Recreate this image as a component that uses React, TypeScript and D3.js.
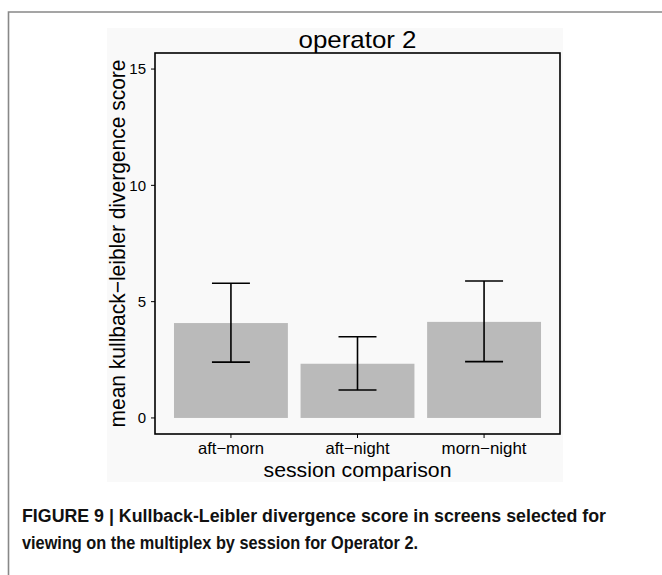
import React from "react";
import * as d3 from "d3";

const categories = ["aft−morn", "aft−night", "morn−night"];
const means = [4.08, 2.33, 4.13];
const lower = [2.4, 1.2, 2.42];
const upper = [5.79, 3.49, 5.89];
const yTicks = [0, 5, 10, 15];

const title = "operator 2";
const xTitle = "session comparison";
const yTitle = "mean kullback−leibler divergence score";
const caption1 = "FIGURE 9 | Kullback-Leibler divergence score in screens selected for";
const caption2 = "viewing on the multiplex by session for Operator 2.";

const W = 662;
const H = 575;
const plot = { left: 155, right: 560, top: 53, bottom: 434 };
const font = "'Liberation Sans', Arial, Helvetica, sans-serif";
const xLabelWidths = [66, 64, 85];

export default function App() {
  const x = d3.scaleLinear().domain([-0.6, categories.length - 1 + 0.6]).range([plot.left, plot.right]);
  const y = d3.scaleLinear().domain([-0.69, 15.69]).range([plot.bottom, plot.top]);
  const unit = x(1) - x(0);
  const barW = unit * 0.9;
  const errW = unit * 0.3;

  return (
    <svg
      width={W}
      height={H}
      style={{ position: "absolute", left: 0, top: 0, background: "#fff" }}
      fontFamily={font}
    >
      {/* outer frame */}
      <path d={`M8.5,${H + 5} L8.5,12 L${W + 5},12`} fill="none" stroke="#888" strokeWidth={1.6} />
      {/* figure background */}
      <rect x={107} y={28} width={456} height={454} fill="#f9f9f9" />
      {/* title */}
      <text x={(plot.left + plot.right) / 2} y={48} textAnchor="middle" fontSize={24} textLength={118} lengthAdjust="spacingAndGlyphs" fill="#000">
        {title}
      </text>
      {/* bars */}
      {means.map((m, i) => (
        <rect key={"b" + i} x={x(i) - barW / 2} y={y(m)} width={barW} height={y(0) - y(m)} fill="#bababa" />
      ))}
      {/* error bars */}
      {means.map((_, i) => (
        <g key={"e" + i} stroke="#000" strokeWidth={1.6} fill="none">
          <line x1={x(i)} x2={x(i)} y1={y(lower[i])} y2={y(upper[i])} />
          <line x1={x(i) - errW / 2} x2={x(i) + errW / 2} y1={y(upper[i])} y2={y(upper[i])} />
          <line x1={x(i) - errW / 2} x2={x(i) + errW / 2} y1={y(lower[i])} y2={y(lower[i])} />
        </g>
      ))}
      {/* plot border */}
      <rect x={plot.left} y={plot.top} width={plot.right - plot.left} height={plot.bottom - plot.top} fill="none" stroke="#000" strokeWidth={1.6} />
      {/* y ticks */}
      {yTicks.map((t) => (
        <g key={"yt" + t}>
          <line x1={plot.left - 4} x2={plot.left} y1={y(t)} y2={y(t)} stroke="#000" strokeWidth={1} />
          <text x={146} y={y(t)} dy="0.36em" textAnchor="end" fontSize={15} fill="#000">
            {t}
          </text>
        </g>
      ))}
      {/* x ticks */}
      {categories.map((c, i) => (
        <g key={"xt" + i}>
          <line x1={x(i)} x2={x(i)} y1={plot.bottom} y2={plot.bottom + 4} stroke="#000" strokeWidth={1} />
          <text x={x(i)} y={454} textAnchor="middle" fontSize={16.5} textLength={xLabelWidths[i]} lengthAdjust="spacingAndGlyphs" fill="#000">
            {c}
          </text>
        </g>
      ))}
      {/* axis titles */}
      <text x={(plot.left + plot.right) / 2} y={477} textAnchor="middle" fontSize={21} textLength={188} lengthAdjust="spacingAndGlyphs" fill="#000">
        {xTitle}
      </text>
      <text
        transform={`translate(125,${(plot.top + plot.bottom) / 2}) rotate(-90)`}
        textAnchor="middle"
        fontSize={22}
        textLength={368}
        lengthAdjust="spacingAndGlyphs"
        fill="#000"
      >
        {yTitle}
      </text>
      {/* caption */}
      <text x={22} y={522} fontSize={18} fontWeight="bold" textLength={584} lengthAdjust="spacingAndGlyphs" fill="#111">
        {caption1}
      </text>
      <text x={22} y={549} fontSize={18} fontWeight="bold" textLength={396} lengthAdjust="spacingAndGlyphs" fill="#111">
        {caption2}
      </text>
    </svg>
  );
}
